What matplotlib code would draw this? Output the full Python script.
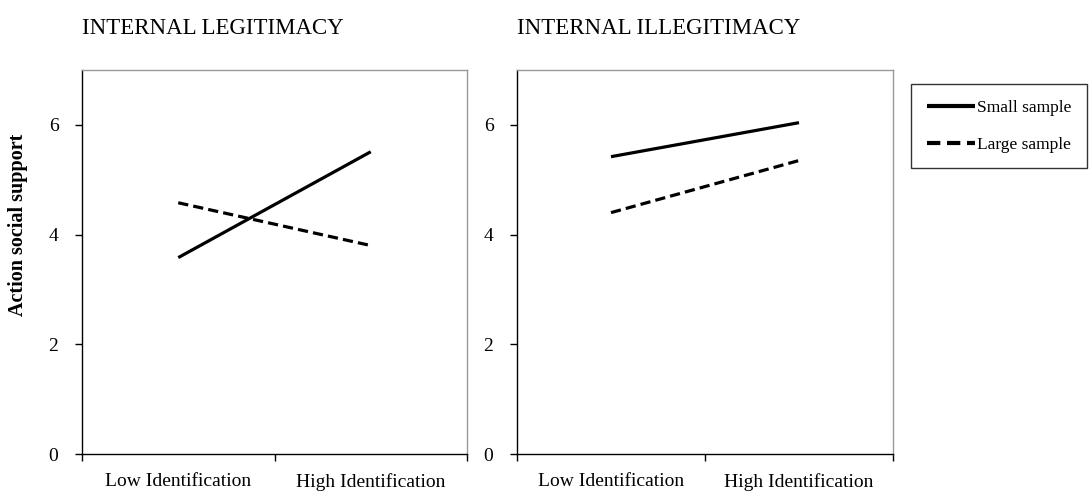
''' INTERNAL LEGITIMACY VS ILLEGITIMACY '''

import matplotlib
matplotlib.use("Agg")
import matplotlib.pyplot as plt

# DATA
categories = ["Low Identification", "High Identification"]
legit_small = [3.58, 5.51]
legit_large = [4.58, 3.80]
illegit_small = [5.42, 6.04]
illegit_large = [4.40, 5.35]
panel_titles = ["INTERNAL LEGITIMACY", "INTERNAL ILLEGITIMACY"]
y_ticks = [0, 2, 4, 6]

plt.rcParams['font.family'] = ['Liberation Serif', 'DejaVu Serif']

fig = plt.figure(figsize=(10.89, 4.94), dpi=100)
ax1 = fig.add_axes([82/1089, 1-454/494, 385/1089, 384/494])
ax2 = fig.add_axes([517/1089, 1-454/494, 376/1089, 384/494])

x = list(range(len(categories)))

for ax, small, large in ((ax1, legit_small, legit_large), (ax2, illegit_small, illegit_large)):
    ax.plot(x, small, color="black", lw=2.3, solid_capstyle="butt", label="Small sample")
    ax.plot(x, large, color="black", lw=2.3, linestyle=(0, (3.2, 1.6)),
            dash_capstyle="butt", label="Large sample")
    ax.set_xlim(-0.5, 1.5)
    ax.set_ylim(0, 7)
    ax.set_yticks(y_ticks)
    ax.set_yticklabels([str(t) for t in y_ticks], fontsize=14)
    # category boundaries get tick marks, labels sit on minor ticks
    ax.set_xticks([-0.5, 0.5, 1.5])
    ax.set_xticklabels([])
    ax.set_xticks(x, minor=True)
    ax.set_xticklabels(categories, minor=True, fontsize=14)
    ax.tick_params(axis="x", which="major", direction="out", length=5, width=1)
    ax.tick_params(axis="x", which="minor", length=0, pad=14)
    ax.tick_params(axis="y", direction="out", length=5, width=1, pad=12)
    for side in ("left", "bottom"):
        ax.spines[side].set_color("black")
        ax.spines[side].set_linewidth(1.0)
    for side in ("top", "right"):
        ax.spines[side].set_color("#999999")
        ax.spines[side].set_linewidth(1.0)

# TITLES
fig.text(82/1089, 1-28/494, panel_titles[0], fontsize=16.5, va="center", ha="left")
fig.text(517/1089, 1-28/494, panel_titles[1], fontsize=16.5, va="center", ha="left")

# Y LABEL
fig.text(18/1089, 1-225/494, "Action social support", fontsize=14.5, fontweight="bold",
         rotation=90, va="center", ha="center")

# LEGEND
handles, labels = ax2.get_legend_handles_labels()
leg = fig.legend(handles, labels, loc="upper left", bbox_to_anchor=(911/1089, 1-84/494),
                 frameon=True, fancybox=False, edgecolor="black", fontsize=12.5,
                 handlelength=2.8, handletextpad=0.1, borderpad=0.9, labelspacing=1.2,
                 borderaxespad=0)
leg.get_frame().set_linewidth(1.0)
for line in leg.get_lines():
    line.set_linewidth(3)

plt.savefig("out.png", dpi=100)
plt.close()
